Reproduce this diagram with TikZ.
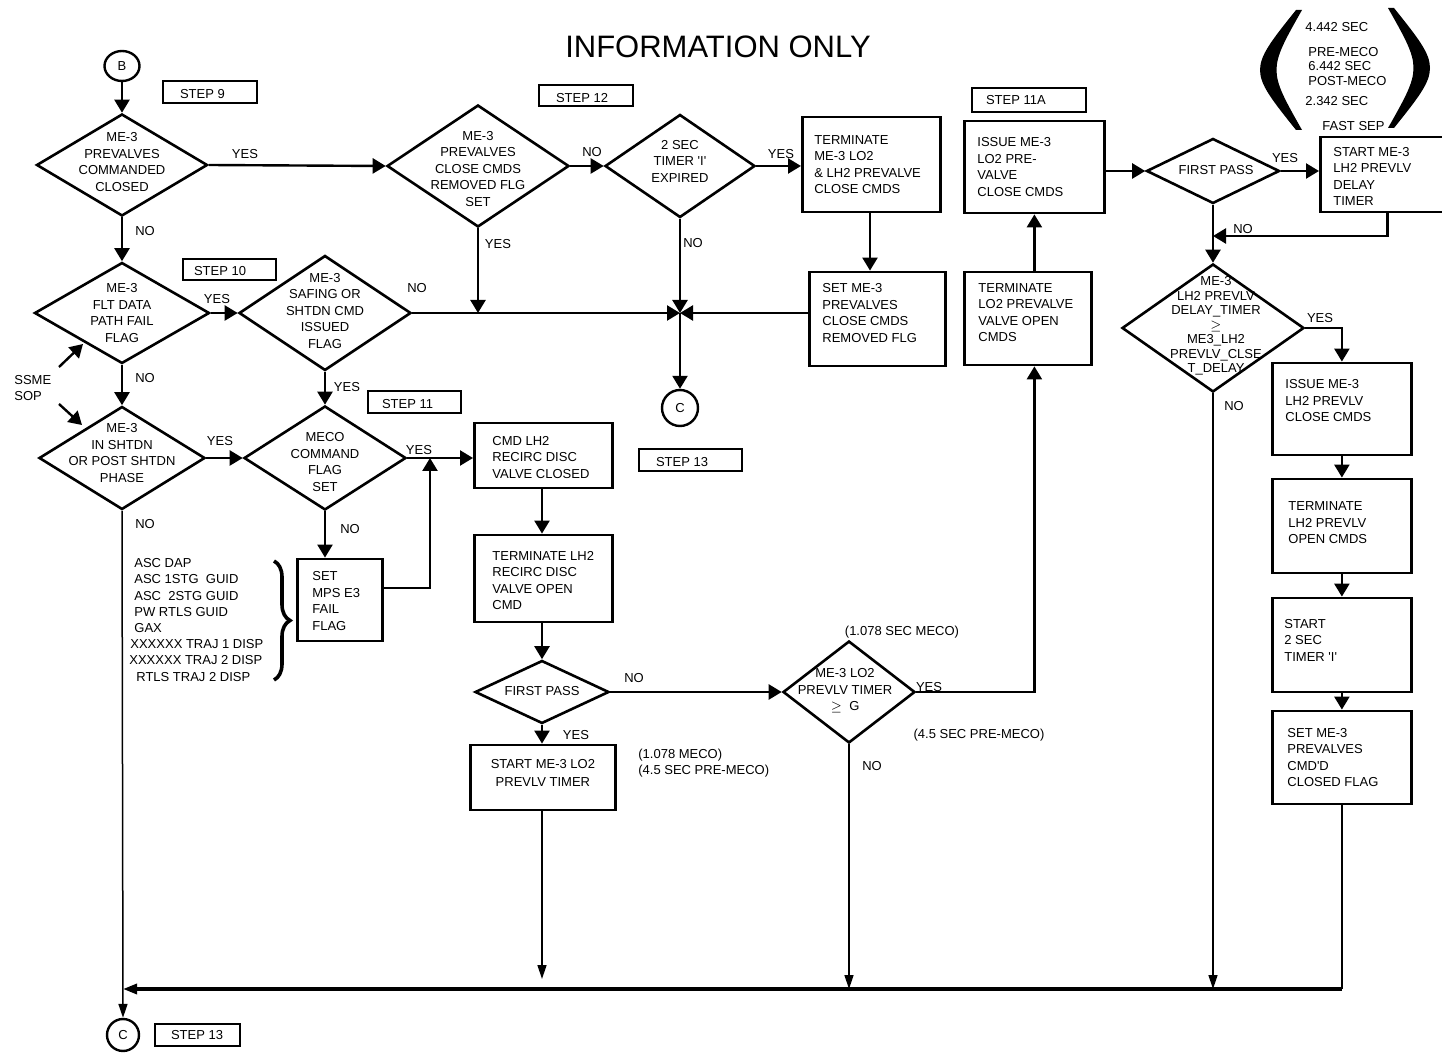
\documentclass[tikz,border=0pt]{standalone}
\usepackage{fontspec}
\setmainfont{Liberation Sans}
\newfontfamily\rawf{Liberation Sans}
\usetikzlibrary{shapes.geometric,arrows.meta,decorations.pathreplacing}
\tikzset{
  tx/.style={inner sep=0pt, align=left, font=\fontsize{6.5}{8.25}\selectfont},
  ctx/.style={inner sep=0pt, align=center, font=\fontsize{6.5}{8.25}\selectfont},
  lbl/.style={inner sep=0pt, font=\fontsize{6.5}{8}\selectfont},
  dia/.style={draw, diamond, inner sep=0pt, line width=1.3pt},
  bx/.style={draw, rectangle, inner sep=0pt, line width=1.4pt, anchor=west},
  stepbox/.style={draw, rectangle, inner sep=0pt, line width=1.4pt},
  conn/.style={draw, circle, inner sep=0pt, line width=1.2pt, font=\fontsize{6.5}{8}\selectfont},
  ar/.style={line width=1.2pt, -{Triangle[length=6.5pt,width=7.5pt]}},
  ln/.style={line width=1.2pt},
  thinln/.style={line width=0.75pt},
  tar/.style={line width=0.75pt, -{Triangle[length=7pt,width=4.5pt]}},
  bar/.style={line width=1.6pt, -{Triangle[length=7pt,width=5pt]}},
}
\begin{document}
\begin{tikzpicture}[x=0.5pt,y=-0.5pt]
\fill[white] (0,0) rectangle (1442,1053);
\useasboundingbox (0,0) rectangle (1442,1053);

\node[inner sep=0pt, font=\fontsize{15.5}{18}\selectfont] (title) at (718,47) {INFORMATION ONLY};

% connectors
\node[draw, ellipse, inner sep=0pt, line width=1.2pt, minimum width=17.5pt, minimum height=15pt, font=\fontsize{6.5}{8}\selectfont] (b) at (122,66) {B};
\node[conn, minimum size=18pt] (c1) at (680,408) {C};
\node[conn, minimum size=16pt] (c2) at (123,1035) {C};

% step boxes
\node[stepbox, minimum width=47pt, minimum height=11pt] (st9) at (210,92) {};
\node[tx, anchor=west] (st9t) at ([xshift=9pt,yshift=-1pt]st9.west) {STEP 9};
\node[stepbox, minimum width=47pt, minimum height=10.5pt] (st12) at (586,95.5) {};
\node[tx, anchor=west] (st12t) at ([xshift=9pt,yshift=-1.5pt]st12.west) {STEP 12};
\node[stepbox, minimum width=46.5pt, minimum height=10.5pt] (st10) at (229.5,269.5) {};
\node[tx, anchor=west] (st10t) at ([xshift=6pt,yshift=-1pt]st10.west) {STEP 10};
\node[stepbox, minimum width=46.5pt, minimum height=11pt] (st11) at (414.5,402) {};
\node[tx, anchor=west] (st11t) at ([xshift=7.5pt,yshift=-1pt]st11.west) {STEP 11};
\node[stepbox, minimum width=57pt, minimum height=12pt] (st11a) at (1029,100) {};
\node[tx, anchor=west] (st11at) at ([xshift=7.5pt]st11a.west) {STEP 11A};
\node[stepbox, minimum width=51.5pt, minimum height=11pt] (st13a) at (690.5,460) {};
\node[tx, anchor=west] (st13at) at ([xshift=9pt,yshift=-1pt]st13a.west) {STEP 13};
\node[stepbox, minimum width=42.5pt, minimum height=11pt] (st13b) at (197.5,1035) {};
\node[tx, anchor=west] (st13bt) at ([xshift=8.5pt]st13b.west) {STEP 13};

% diamonds
\node[dia, minimum width=85.5pt, minimum height=51pt] (d1) at (122,165) {};
\node[ctx] (d1t) at (122,162) {ME-3\\PREVALVES\\COMMANDED\\CLOSED};
\node[dia, minimum width=91pt, minimum height=61pt] (d2) at (478,166) {};
\node[ctx] (d2t) at (478,169) {ME-3\\PREVALVES\\CLOSE CMDS\\REMOVED FLG\\SET};
\node[dia, minimum width=75pt, minimum height=51.5pt] (d3) at (680,166) {};
\node[ctx] (d3t) at (680,161) {2 SEC\\TIMER {\rawf 'I'}\\EXPIRED};
\node[dia, minimum width=87.5pt, minimum height=50.5pt] (dflt) at (122,313) {};
\node[ctx] (dfltt) at (122,313) {ME-3\\FLT DATA\\PATH FAIL\\FLAG};
\node[dia, minimum width=86pt, minimum height=57.5pt] (dsaf) at (325,313) {};
\node[ctx] (dsaft) at (325,311) {ME-3\\SAFING OR\\SHTDN CMD\\ISSUED\\FLAG};
\node[dia, minimum width=83pt, minimum height=51.5pt] (dsht) at (122,458) {};
\node[ctx] (dshtt) at (122,453) {ME-3\\IN SHTDN\\OR POST SHTDN\\PHASE};
\node[dia, minimum width=81pt, minimum height=52pt] (dmeco) at (325,458) {};
\node[ctx] (dmecot) at (325,462) {MECO\\COMMAND\\FLAG\\SET};
\node[dia, minimum width=67pt, minimum height=31.5pt] (fp1) at (542,692) {};
\node[ctx] (fp1t) at (542,691) {FIRST PASS};
\node[dia, minimum width=66pt, minimum height=51pt] (lo2) at (849,692) {};
\node[ctx] (lo2t) at (845,691) {ME-3 LO2\\PREVLV TIMER\\$\geq$\ \ G};
\node[dia, minimum width=66.5pt, minimum height=32.5pt] (fp2) at (1213,171) {};
\node[ctx] (fp2t) at (1216,170) {FIRST PASS};
\node[dia, minimum width=91pt, minimum height=64pt] (dlh2) at (1213,328) {};
\node[inner sep=0pt, align=center, font=\fontsize{6.5}{7.25}\selectfont] (dlh2t) at (1216,326) {ME-3\\LH2 PREVLV\\DELAY\_TIMER\\$\geq$\\ME3\_LH2\\PREVLV\_CLSE\\T\_DELAY};

% boxes
\node[bx, minimum width=69pt, minimum height=47.5pt] (t1) at (801,164.5) {};
\node[tx, anchor=west] (t1t) at ([xshift=6.5pt]t1.west) {TERMINATE\\ME-3 LO2\\\& LH2 PREVALVE\\CLOSE CMDS};
\node[bx, minimum width=68pt, minimum height=47pt] (s1) at (808,319) {};
\node[tx, anchor=west] (s1t) at ([xshift=7pt,yshift=3pt]s1.west) {SET ME-3\\PREVALVES\\CLOSE CMDS\\REMOVED FLG};
\node[bx, minimum width=63.5pt, minimum height=46.5pt] (tl) at (963,318.5) {};
\node[tx, anchor=west] (tlt) at ([xshift=7.5pt,yshift=3pt]tl.west) {TERMINATE\\LO2 PREVALVE\\VALVE OPEN\\CMDS};
\node[bx, minimum width=70pt, minimum height=46pt] (is) at (963,167) {};
\node[tx, anchor=west] (ist) at ([xshift=7pt]is.west) {ISSUE ME-3\\LO2 PRE-\\VALVE\\CLOSE CMDS};
\node[bx, minimum width=67pt, minimum height=37.5pt] (sd) at (1319,174.5) {};
\node[tx, anchor=west] (sdt) at ([xshift=7pt,yshift=-1pt]sd.west) {START ME-3\\LH2 PREVLV\\DELAY\\TIMER};
\node[bx, minimum width=69pt, minimum height=32.5pt] (cmd) at (473,455.5) {};
\node[tx, anchor=west] (cmdt) at ([xshift=9.5pt,yshift=-1pt]cmd.west) {CMD LH2\\RECIRC DISC\\VALVE CLOSED};
\node[bx, minimum width=69pt, minimum height=43.5pt] (term) at (473,578.5) {};
\node[tx, anchor=west] (termt) at ([xshift=9.5pt,yshift=-1pt]term.west) {TERMINATE LH2\\RECIRC DISC\\VALVE OPEN\\CMD};
\node[bx, minimum width=72.5pt, minimum height=32.5pt] (start) at (469,777.5) {};
\node[inner sep=0pt, align=center, font=\fontsize{6.5}{9}\selectfont] (startt) at ([yshift=2.5pt]start.center) {START ME-3 LO2\\PREVLV TIMER};
\node[bx, minimum width=42.5pt, minimum height=41pt] (smps) at (296,600) {};
\node[tx, anchor=west] (smpst) at ([xshift=8pt,yshift=-0.5pt]smps.west) {SET\\MPS E3\\FAIL\\FLAG};
\node[bx, minimum width=69.5pt, minimum height=46pt] (il) at (1271,409) {};
\node[tx, anchor=west] (ilt) at ([xshift=7pt,yshift=4pt]il.west) {ISSUE ME-3\\LH2 PREVLV\\CLOSE CMDS};
\node[bx, minimum width=69.5pt, minimum height=47pt] (tlh) at (1271,526) {};
\node[tx, anchor=west] (tlht) at ([xshift=8.5pt,yshift=1.5pt]tlh.west) {TERMINATE\\LH2 PREVLV\\OPEN CMDS};
\node[bx, minimum width=69.5pt, minimum height=47pt] (st2) at (1271,645) {};
\node[tx, anchor=west] (st2t) at ([xshift=6.5pt,yshift=2.5pt]st2.west) {START\\2 SEC\\TIMER {\rawf 'I'}};
\node[bx, minimum width=69.5pt, minimum height=46.5pt] (sm3) at (1271,757.5) {};
\node[tx, anchor=west] (sm3t) at ([xshift=8pt]sm3.west) {SET ME-3\\PREVALVES\\CMD{\rawf '}D\\CLOSED FLAG};

% free texts
\node[tx, anchor=west, font=\fontsize{6.5}{8.1}\selectfont] (list) at (134,620) {ASC DAP\\ASC 1STG\ \ GUID\\ASC\ \ 2STG GUID\\PW RTLS GUID\\GAX\\\hspace*{-2pt}XXXXXX TRAJ 1 DISP\\\hspace*{-2.5pt}XXXXXX TRAJ 2 DISP\\\hspace*{1pt}RTLS TRAJ 2 DISP};
\draw[line width=1.8pt, decorate, decoration={brace, amplitude=8pt}] (274,561) -- (274,680);
\node[tx, anchor=west] (ssme) at (14,388) {SSME\\SOP};
\node[lbl] (n1) at (902,632) {(1.078 SEC MECO)};
\node[lbl] (n2) at (979,735) {(4.5 SEC PRE-MECO)};
\node[tx, anchor=west] (n3) at (638,763) {(1.078 MECO)\\(4.5 SEC PRE-MECO)};
\node[lbl, anchor=west] (p1) at (1305,27) {4.442 SEC};
\node[lbl, anchor=west] (p2) at (1308,52) {PRE-MECO};
\node[lbl, anchor=west] (p3) at (1308,66) {6.442 SEC};
\node[lbl, anchor=west] (p4) at (1308,81) {POST-MECO};
\node[lbl, anchor=west] (p5) at (1305,101) {2.342 SEC};
\node[lbl, anchor=west] (p6) at (1322,126) {FAST SEP};
\fill (1296,10) .. controls (1248,70) .. (1296,130) -- (1302,130) .. controls (1268,70) .. (1302,10) -- cycle;
\fill (1394,8) .. controls (1442,68) .. (1394,128) -- (1388,128) .. controls (1422,68) .. (1388,8) -- cycle;

% labels
\node[lbl] (l1) at (245,154) {YES};
\node[lbl] (l2) at (145,231) {NO};
\node[lbl] (l3) at (592,152) {NO};
\node[lbl] (l4) at (498,244) {YES};
\node[lbl] (l5) at (693,243) {NO};
\node[lbl] (l6) at (781,154) {YES};
\node[lbl] (l7) at (417,288) {NO};
\node[lbl] (l8) at (217,299) {YES};
\node[lbl] (l9) at (145,378) {NO};
\node[lbl] (l10) at (347,387) {YES};
\node[lbl] (l11) at (220,441) {YES};
\node[lbl] (l12) at (419,450) {YES};
\node[lbl] (l13) at (350,529) {NO};
\node[lbl] (l14) at (145,524) {NO};
\node[lbl] (l15) at (634,678) {NO};
\node[lbl] (l16) at (576,735) {YES};
\node[lbl] (l17) at (929,687) {YES};
\node[lbl] (l18) at (872,766) {NO};
\node[lbl] (l19) at (1285,158) {YES};
\node[lbl] (l20) at (1243,229) {NO};
\node[lbl] (l21) at (1320,318) {YES};
\node[lbl] (l22) at (1234,406) {NO};

% coordinates
\coordinate (j) at (680,313);
\coordinate (mj) at (430,458);
\coordinate (nj) at (1213,236);
\coordinate (bl) at (123,989);
\coordinate (se) at (542,979);
\coordinate (ssa) at (59,367);
\coordinate (ssae) at (83,344);
\coordinate (ssb) at (59,404);
\coordinate (ssbe) at (82,425);

% connectors
\draw[ar] (b) -- (d1.north);
\draw[ar] (d1.east) -- (d2.west);
\draw[ar] (d2.east) -- (d3.west);
\draw[ar] (d3.east) -- (d3.east -| t1.west);
\draw[ar] (t1.south -| 870,0) -- (s1.north -| 870,0);
\draw[ar] (s1.west |- j) -- (j);
\draw[ar] (dsaf.east) -- (j);
\draw[ar] (d2.south) -- (d2.south |- j);
\draw[ar] (d3.south) -- (j);
\draw[ar] (j) -- (c1);
\draw[ar] (d1.south) -- (dflt.north);
\draw[ar] (dflt.east) -- (dsaf.west);
\draw[ar] (dflt.south) -- (dsht.north);
\draw[ar] (dsaf.south) -- (dmeco.north);
\draw[ar] (dsht.east) -- (dmeco.west);
\draw[ar] (dmeco.east) -- (dmeco.east -| cmd.west);
\draw[ar] (dmeco.south) -- (dmeco.south |- smps.north);
\draw[ar] ([yshift=6pt]smps.east) -| (mj);
\draw[ar] (ssa) -- (ssae);
\draw[ar] (ssb) -- (ssbe);
\draw[ar] (cmd.south -| fp1.north) -- (term.north -| fp1.north);
\draw[ar] (term.south -| fp1.north) -- (fp1.north);
\draw[ar] (fp1.east) -- (lo2.west);
\draw[ar] (fp1.south) -- (start.north -| fp1.south);
\draw[tar] (start.south -| se) -- (se);
\draw[ar] (lo2.east) -| (tl.south -| is.south);
\draw[ar] (tl.north -| is.south) -- (is.south);
\draw[ar] (is.east |- fp2.west) -- (fp2.west);
\draw[ar] (fp2.east) -- (fp2.east -| sd.west);
\draw[ar] (sd.south) |- (nj);
\draw[ar] (fp2.south) -- (dlh2.north);
\draw[ar] (dlh2.east) -| (il.north);
\draw[ar] (il.south) -- (tlh.north);
\draw[ar] (tlh.south) -- (st2.north);
\draw[ar] (st2.south) -- (sm3.north);
\draw[thinln] (sm3.south) -- (sm3.south |- bl);
\draw[bar] (sm3.south |- bl) -- (bl);
\draw[tar] (lo2.south) -- (lo2.south |- bl);
\draw[tar] (dlh2.south) -- (dlh2.south |- bl);
\draw[tar] (dsht.south) -- (c2.north);
\end{tikzpicture}
\end{document}
